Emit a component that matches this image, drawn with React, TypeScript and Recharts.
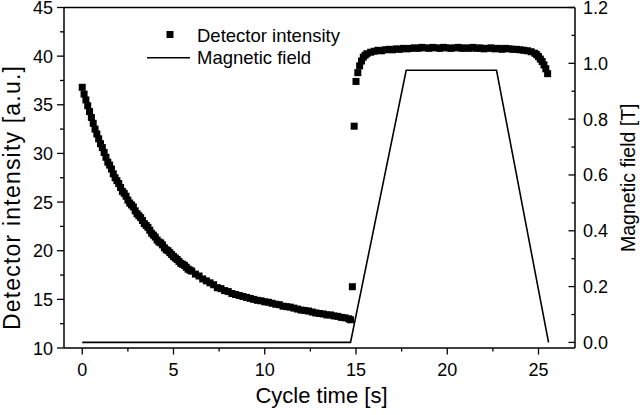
import React from 'react';
import { ComposedChart, Scatter, Line, XAxis, YAxis, ReferenceLine, Legend } from 'recharts';

const FONT = '"Liberation Sans", Arial, Helvetica, sans-serif';

// Detector intensity [a.u.] vs cycle time [s]
const detectorTime = [
  0, 0.1, 0.2, 0.3, 0.4, 0.5, 0.6, 0.7, 0.8, 0.9, 1.0, 1.1, 1.2, 1.3, 1.4, 1.5, 1.6, 1.7, 1.8, 1.9,
  2.0, 2.1, 2.2, 2.3, 2.4, 2.5, 2.6, 2.7, 2.8, 2.9, 3.0, 3.1, 3.2, 3.3, 3.4, 3.5, 3.6, 3.7, 3.8, 3.9,
  4.0, 4.1, 4.2, 4.3, 4.4, 4.5, 4.6, 4.7, 4.8, 4.9, 5.0, 5.1, 5.2, 5.3, 5.4, 5.5, 5.6, 5.7, 5.8, 5.9,
  6.0, 6.2, 6.4, 6.6, 6.8, 7.0, 7.2, 7.4, 7.6, 7.8,
  8.0, 8.2, 8.4, 8.6, 8.8, 9.0, 9.2, 9.4, 9.6, 9.8, 10.0, 10.2, 10.4, 10.6, 10.8, 11.0, 11.2, 11.4, 11.6, 11.8,
  12.0, 12.2, 12.4, 12.6, 12.8, 13.0, 13.2, 13.4, 13.6, 13.8, 14.0, 14.2, 14.4, 14.6, 14.7,
  14.8, 14.9, 15.0, 15.1, 15.2, 15.3, 15.4, 15.5, 15.6, 15.8, 16.0, 16.2, 16.4, 16.6, 16.8, 17.0, 17.2, 17.4, 17.6, 17.8,
  18.0, 18.2, 18.4, 18.6, 18.8, 19.0, 19.2, 19.4, 19.6, 19.8, 20.0, 20.2, 20.4, 20.6, 20.8, 21.0, 21.2, 21.4, 21.6, 21.8,
  22.0, 22.2, 22.4, 22.6, 22.8, 23.0, 23.2, 23.4, 23.6, 23.8, 24.0, 24.2, 24.4, 24.6, 24.8, 24.9, 25.0, 25.1, 25.2, 25.3,
  25.4, 25.5,
];
const detectorIntensity = [
  36.8, 36.1, 35.5, 34.9, 34.3, 33.7, 33.1, 32.5, 32.0, 31.5, 31.0, 30.6, 30.1, 29.6, 29.1, 28.8, 28.4, 27.9, 27.5, 27.2,
  26.9, 26.5, 26.1, 25.9, 25.6, 25.2, 24.9, 24.7, 24.5, 24.1, 23.8, 23.6, 23.4, 23.1, 22.8, 22.6, 22.4, 22.1, 21.8, 21.6,
  21.4, 21.1, 20.9, 20.8, 20.6, 20.3, 20.1, 20.0, 19.8, 19.6, 19.4, 19.25, 19.1, 18.9, 18.7, 18.6, 18.5, 18.3, 18.1, 18.0,
  17.9, 17.6, 17.4, 17.1, 16.9, 16.7, 16.5, 16.2, 16.1, 15.9,
  15.8, 15.6, 15.5, 15.4, 15.3, 15.2, 15.1, 15.0, 14.9, 14.85, 14.75, 14.7, 14.6, 14.5, 14.45, 14.3, 14.25, 14.2, 14.1, 14.0,
  13.9, 13.85, 13.8, 13.7, 13.6, 13.55, 13.5, 13.4, 13.4, 13.3, 13.25, 13.15, 13.1, 13.0, 12.9,
  16.3, 32.8, 37.4, 38.3, 39.0, 39.5, 39.9, 40.1, 40.25, 40.4, 40.5, 40.6, 40.55, 40.65, 40.7, 40.65, 40.75, 40.7, 40.8, 40.75,
  40.8, 40.85, 40.8, 40.9, 40.85, 40.8, 40.9, 40.85, 40.8, 40.9, 40.85, 40.8, 40.85, 40.9, 40.8, 40.85, 40.8, 40.9, 40.8, 40.85,
  40.75, 40.8, 40.85, 40.75, 40.8, 40.7, 40.8, 40.75, 40.7, 40.7, 40.65, 40.6, 40.55, 40.45, 40.3, 40.15, 39.95, 39.7, 39.45, 39.1,
  38.7, 38.2,
];

// Magnetic field [T]
const fieldTime = [0, 14.7, 17.75, 22.7, 25.55];
const fieldValue = [0, 0, 0.975, 0.975, 0];

// Ticks
const xTicks = [0, 2.5, 5, 7.5, 10, 12.5, 15, 17.5, 20, 22.5, 25];
const xLabels = ['0', '', '5', '', '10', '', '15', '', '20', '', '25'];
const leftTicks = [10, 12.5, 15, 17.5, 20, 22.5, 25, 27.5, 30, 32.5, 35, 37.5, 40, 42.5, 45];
const leftLabels = ['10', '', '15', '', '20', '', '25', '', '30', '', '35', '', '40', '', '45'];
const rightTicks = [0, 0.1, 0.2, 0.3, 0.4, 0.5, 0.6, 0.7, 0.8, 0.9, 1.0, 1.1, 1.2];
const rightLabels = ['0.0', '', '0.2', '', '0.4', '', '0.6', '', '0.8', '', '1.0', '', '1.2'];

const detectorData = detectorTime.map((t, i) => ({ t, v: detectorIntensity[i] }));
const fieldData = fieldTime.map((t, i) => ({ t, b: fieldValue[i] }));

const labelOf = (ticks: number[], labels: string[], v: number) => {
  const i = ticks.findIndex((k) => Math.abs(k - v) < 1e-6);
  return i >= 0 ? labels[i] : '';
};

const TICK_FS = 18;

const XTick = (props: any) => {
  const { x, y, payload } = props;
  const lab = labelOf(xTicks, xLabels, payload.value);
  const major = lab !== '';
  return (
    <g>
      <line x1={x} x2={x} y1={y} y2={y + (major ? 6.5 : 3.5)} stroke="#000" strokeWidth={1.3} />
      {major && (
        <text x={x} y={y + 28} textAnchor="middle" fontSize={TICK_FS} fontFamily={FONT} fill="#000">
          {lab}
        </text>
      )}
    </g>
  );
};

const LeftTick = (props: any) => {
  const { x, y, payload } = props;
  const lab = labelOf(leftTicks, leftLabels, payload.value);
  const major = lab !== '';
  return (
    <g>
      <line x1={x} x2={x - (major ? 7 : 4)} y1={y} y2={y} stroke="#000" strokeWidth={1.3} />
      {major && (
        <text x={x - 11} y={y + 6.5} textAnchor="end" fontSize={TICK_FS} fontFamily={FONT} fill="#000">
          {lab}
        </text>
      )}
    </g>
  );
};

const RightTick = (props: any) => {
  const { x, y, payload } = props;
  const lab = labelOf(rightTicks, rightLabels, payload.value);
  const major = lab !== '';
  return (
    <g>
      <line x1={x} x2={x - (major ? 6.5 : 3.5)} y1={y} y2={y} stroke="#000" strokeWidth={1.3} />
      {major && (
        <text x={x + 8} y={y + 6.5} textAnchor="start" fontSize={TICK_FS} fontFamily={FONT} fill="#000">
          {lab}
        </text>
      )}
    </g>
  );
};

const SquareDot = (props: any) => {
  const { cx, cy } = props;
  if (cx == null || cy == null) return <g />;
  return <rect x={cx - 3.5} y={cy - 3.5} width={7} height={7} fill="#000" />;
};

const LegendContent = () => (
  <svg width={230} height={55} style={{ display: 'block' }}>
    <rect x={26.5} y={13} width={7} height={7} fill="#000" />
    <text x={57} y={17} dominantBaseline="central" fontSize={18.5} fontFamily={FONT} fill="#000">
      Detector intensity
    </text>
    <line x1={7} x2={50} y1={39.7} y2={39.7} stroke="#000" strokeWidth={1.6} />
    <text x={57} y={39} dominantBaseline="central" fontSize={18.5} fontFamily={FONT} fill="#000">
      Magnetic field
    </text>
  </svg>
);

const leftTitle = (p: any) => {
  const vb = p.viewBox;
  const cx = vb.x + 12;
  const cy = vb.y + 190;
  return (
    <text x={cx} y={cy} transform={`rotate(-90, ${cx}, ${cy})`} textAnchor="middle" dominantBaseline="central"
      fontSize={23} letterSpacing={1.2} fontFamily={FONT} fill="#000">
      Detector intensity [a.u.]
    </text>
  );
};

const rightTitle = (p: any) => {
  const vb = p.viewBox;
  const cx = vb.x + 53;
  const cy = vb.y + vb.height / 2;
  return (
    <text x={cx} y={cy} transform={`rotate(-90, ${cx}, ${cy})`} textAnchor="middle" dominantBaseline="central"
      fontSize={19.5} fontFamily={FONT} fill="#000">
      Magnetic field [T]
    </text>
  );
};

const bottomTitle = (p: any) => {
  const vb = p.viewBox;
  const cx = vb.x + vb.width / 2 + 2;
  const cy = vb.y + 47;
  return (
    <text x={cx} y={cy} textAnchor="middle" dominantBaseline="central" fontSize={22} fontFamily={FONT} fill="#000">
      Cycle time [s]
    </text>
  );
};

export default function App() {
  return (
    <div style={{ position: 'absolute', left: 0, top: 0, width: 640, height: 415, background: '#fff' }}>
      <ComposedChart width={640} height={415} margin={{ top: 7.5, right: 0, bottom: 0, left: 0 }}>
        <XAxis
          dataKey="t"
          type="number"
          domain={[-1, 27]}
          ticks={xTicks}
          interval={0}
          allowDataOverflow
          height={67}
          tickSize={0}
          tickMargin={0}
          tickLine={false}
          tick={<XTick />}
          axisLine={{ stroke: '#000', strokeWidth: 1.5 }}
          label={{ content: bottomTitle }}
        />
        <YAxis
          yAxisId="left"
          orientation="left"
          type="number"
          domain={[10, 45]}
          ticks={leftTicks}
          interval={0}
          allowDataOverflow
          width={64}
          tickSize={0}
          tickMargin={0}
          tickLine={false}
          tick={<LeftTick />}
          axisLine={{ stroke: '#000', strokeWidth: 1.5 }}
          label={{ content: leftTitle }}
        />
        <YAxis
          yAxisId="right"
          orientation="right"
          type="number"
          domain={[-0.02, 1.2]}
          ticks={rightTicks}
          interval={0}
          allowDataOverflow
          width={65}
          tickSize={0}
          tickMargin={0}
          tickLine={false}
          tick={<RightTick />}
          axisLine={{ stroke: '#000', strokeWidth: 1.5 }}
          label={{ content: rightTitle }}
        />
        <ReferenceLine yAxisId="left" y={45} stroke="#000" strokeWidth={1.5} ifOverflow="visible" />
        <Line
          yAxisId="right"
          data={fieldData}
          dataKey="b"
          type="linear"
          stroke="#000"
          strokeWidth={1.6}
          dot={false}
          activeDot={false}
          isAnimationActive={false}
          name="Magnetic field"
        />
        <Scatter
          yAxisId="left"
          data={detectorData}
          dataKey="v"
          fill="#000"
          shape={<SquareDot />}
          isAnimationActive={false}
          name="Detector intensity"
        />
        <Legend
          layout="vertical"
          align="center"
          verticalAlign="middle"
          wrapperStyle={{ left: 140, top: 18, width: 230, height: 55 }}
          content={<LegendContent />}
        />
      </ComposedChart>
    </div>
  );
}
